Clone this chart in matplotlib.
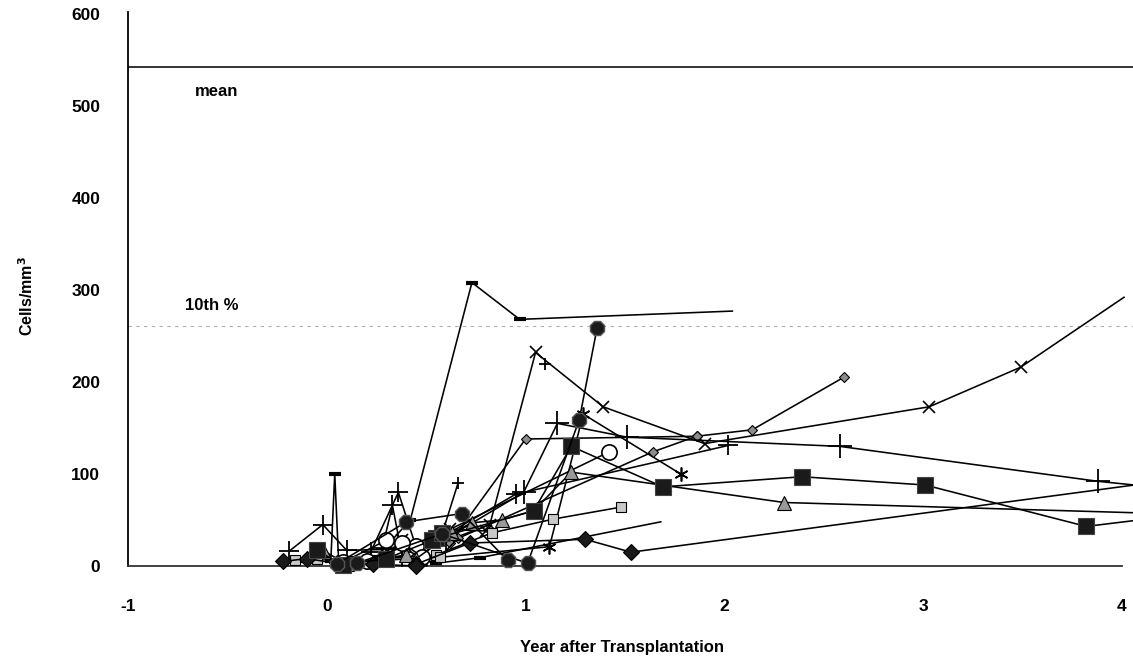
import matplotlib
matplotlib.use("Agg")
import matplotlib.pyplot as plt

plt.rcParams['font.family'] = ['Liberation Sans', 'DejaVu Sans']
plt.rcParams['font.weight'] = 'bold'
plt.rcParams['axes.unicode_minus'] = False

# reference levels (cells/mm3)
mean_level = 542
p10_level = 261

# one pair of lists per patient: years after transplantation, cells/mm3
dash1_yr = [0.23, 0.42, 0.73, 0.97, 2.04]
dash1_val = [5, 50, 308, 268, 277]
dash2_yr = [0.55, 0.77, 1.68]
dash2_val = [3, 9, 48]
dash3_yr = [-0.15, 0.02, 0.04, 0.06, 0.25]
dash3_val = [5, 5, 100, 3, 10]

oct1_yr = [0.15, 0.58, 1.01, 1.27, 1.36]
oct1_val = [3, 35, 3, 159, 259]
oct2_yr = [0.05, 0.40, 0.68, 0.91]
oct2_val = [2, 48, 57, 6]

cross1_yr = [0.45, 0.82, 1.05, 1.39, 1.90, 3.03, 3.49, 4.01]
cross1_val = [15, 45, 232, 173, 133, 173, 216, 292]
cross2_yr = [0.30, 0.38, 0.50, 0.62, 0.80]
cross2_val = [10, 28, 15, 40, 38]

star1_yr = [0.50, 1.12, 1.29, 1.78]
star1_val = [8, 21, 165, 100]

gdia1_yr = [0.62, 1.00, 1.86, 2.14, 2.60]
gdia1_val = [25, 138, 141, 148, 205]
gdia2_yr = [0.56, 0.66, 1.64, 1.86]
gdia2_val = [8, 30, 124, 141]

plus1_yr = [0.60, 0.99, 1.16, 1.51, 2.58, 3.88, 4.20]
plus1_val = [30, 80, 155, 140, 130, 92, 85]
plus2_yr = [0.45, 0.95, 2.02]
plus2_val = [15, 78, 131]
plus3_yr = [-0.19, -0.02, 0.10, 0.30]
plus3_val = [16, 45, 17, 18]
plus4_yr = [0.22, 0.36, 0.45]
plus4_val = [15, 80, 20]
plus5_yr = [0.28, 0.33, 0.38]
plus5_val = [20, 66, 10]
plus6_yr = [0.58, 0.66]
plus6_val = [35, 90]
plus7_yr = [1.10]
plus7_val = [220]

bsq1_yr = [0.55, 1.04, 1.23, 1.69, 2.39, 3.01, 3.82, 4.20]
bsq1_val = [30, 60, 130, 86, 97, 88, 43, 53]
bsq2_yr = [-0.05, 0.08, 0.30, 0.53, 0.58]
bsq2_val = [17, 1, 8, 28, 36]

tri1_yr = [0.45, 0.63, 0.73, 0.88, 1.04, 1.23, 2.30, 4.20]
tri1_val = [8, 36, 47, 50, 60, 102, 69, 57]
tri2_yr = [-0.02, 0.10, 0.40]
tri2_val = [17, 2, 12]

bdia1_yr = [0.45, 0.72, 1.30, 1.53, 4.20]
bdia1_val = [2, 25, 29, 15, 92]
bdia2_yr = [-0.22, -0.10, 0.05, 0.23, 0.45]
bdia2_val = [5, 8, 3, 2, 0]

gsq1_yr = [0.10, 0.55, 0.83, 1.14, 1.48]
gsq1_val = [5, 12, 36, 51, 64]
gsq2_yr = [-0.16, -0.05, 0.20, 0.57]
gsq2_val = [7, 8, 5, 10]

circ1_yr = [0.08, 0.30, 0.45, 1.42]
circ1_val = [4, 28, 22, 124]
circ2_yr = [0.20, 0.38, 0.48]
circ2_val = [5, 25, 10]

xticks = [-1, 0, 1, 2, 3, 4]
yticks = [0, 100, 200, 300, 400, 500, 600]

styles = {
    "dash": dict(marker="_", ms=8, mew=3, mec="k"),
    "oct": dict(marker="8", ms=11, mfc="#1a1a1a", mec="#555555", mew=1),
    "cross": dict(marker="x", ms=9, mew=1.2, mec="k"),
    "star": dict(marker=(6, 2, 0), ms=10, mew=1.2, mec="k"),
    "gdia": dict(marker="D", ms=5.5, mfc="#8c8c8c", mec="k", mew=0.8),
    "plus": dict(marker="+", ms=15, mew=1.3, mec="k"),
    "bigplus": dict(marker="+", ms=17, mew=1.3, mec="k"),
    "smallplus": dict(marker="+", ms=9, mew=1.3, mec="k"),
    "bsq": dict(marker="s", ms=12, mfc="#1a1a1a", mec="#444444", mew=0.8),
    "tri": dict(marker="^", ms=10, mfc="#999999", mec="k", mew=0.8),
    "bdia": dict(marker="D", ms=8, mfc="#1a1a1a", mec="k", mew=0.8),
    "gsq": dict(marker="s", ms=6.5, mfc="#c8c8c8", mec="k", mew=0.8),
    "circ": dict(marker="o", ms=11, mfc="white", mec="k", mew=1.2),
}

series = [
    (dash1_yr, dash1_val, "dash"), (dash2_yr, dash2_val, "dash"),
    (dash3_yr, dash3_val, "dash"),
    (cross1_yr, cross1_val, "cross"), (cross2_yr, cross2_val, "cross"),
    (star1_yr, star1_val, "star"),
    (gdia1_yr, gdia1_val, "gdia"), (gdia2_yr, gdia2_val, "gdia"),
    (plus1_yr, plus1_val, "bigplus"), (plus2_yr, plus2_val, "plus"),
    (plus3_yr, plus3_val, "plus"), (plus4_yr, plus4_val, "plus"),
    (plus5_yr, plus5_val, "plus"), (plus6_yr, plus6_val, "smallplus"),
    (plus7_yr, plus7_val, "smallplus"),
    (gsq1_yr, gsq1_val, "gsq"), (gsq2_yr, gsq2_val, "gsq"),
    (circ1_yr, circ1_val, "circ"), (circ2_yr, circ2_val, "circ"),
    (tri1_yr, tri1_val, "tri"), (tri2_yr, tri2_val, "tri"),
    (bdia1_yr, bdia1_val, "bdia"), (bdia2_yr, bdia2_val, "bdia"),
    (bsq1_yr, bsq1_val, "bsq"), (bsq2_yr, bsq2_val, "bsq"),
    (oct1_yr, oct1_val, "oct"), (oct2_yr, oct2_val, "oct"),
]

# these patients have no visible marker on their last reading
no_last_marker = [cross1_yr, dash1_yr, dash2_yr]

fig = plt.figure(figsize=(11.33, 6.68), dpi=100)
ax = fig.add_axes([128 / 1133, 1 - 566 / 668, 1005 / 1133, 554 / 668])

ax.axhline(mean_level, color="#222222", lw=1.3, zorder=1)
ax.axhline(p10_level, color="#b0b0b0", lw=0.8, ls=(0, (3, 4)), zorder=1)

for yr, val, kind in series:
    st = dict(styles[kind])
    if any(yr is s for s in no_last_marker):
        st["markevery"] = list(range(len(yr) - 1))
    ax.plot(yr, val, color="k", lw=1.15, clip_on=False, zorder=3, **st)

ax.text(-0.665, 516, "mean", fontsize=12, fontweight="bold", va="center")
ax.text(-0.715, 283, "10th %", fontsize=12, fontweight="bold", va="center")

ax.set_xlim(-1, 4 + 11 / 198.8)
ax.set_ylim(0, 602)
ax.set_xticks(xticks)
ax.set_yticks(yticks)
ax.tick_params(axis="both", length=0, labelsize=12.5)
ax.tick_params(axis="x", pad=24)
ax.tick_params(axis="y", pad=20)

for s in ["top", "right"]:
    ax.spines[s].set_visible(False)
ax.spines["left"].set_linewidth(1.3)
ax.spines["bottom"].set_linewidth(1.3)
ax.spines["bottom"].set_color("#333333")
ax.spines["bottom"].set_bounds(-1, 4)

ax.set_xlabel("Year after Transplantation", fontsize=12, fontweight="bold")
ax.xaxis.set_label_coords((622 - 128) / 1005, (566 - 640) / 554)
ax.set_ylabel("Cells/mm$^\\mathbf{3}$", fontsize=11.5, fontweight="bold")
ax.yaxis.set_label_coords((36 - 128) / 1005, (566 - 296) / 554)

plt.savefig("out.png", dpi=100)
